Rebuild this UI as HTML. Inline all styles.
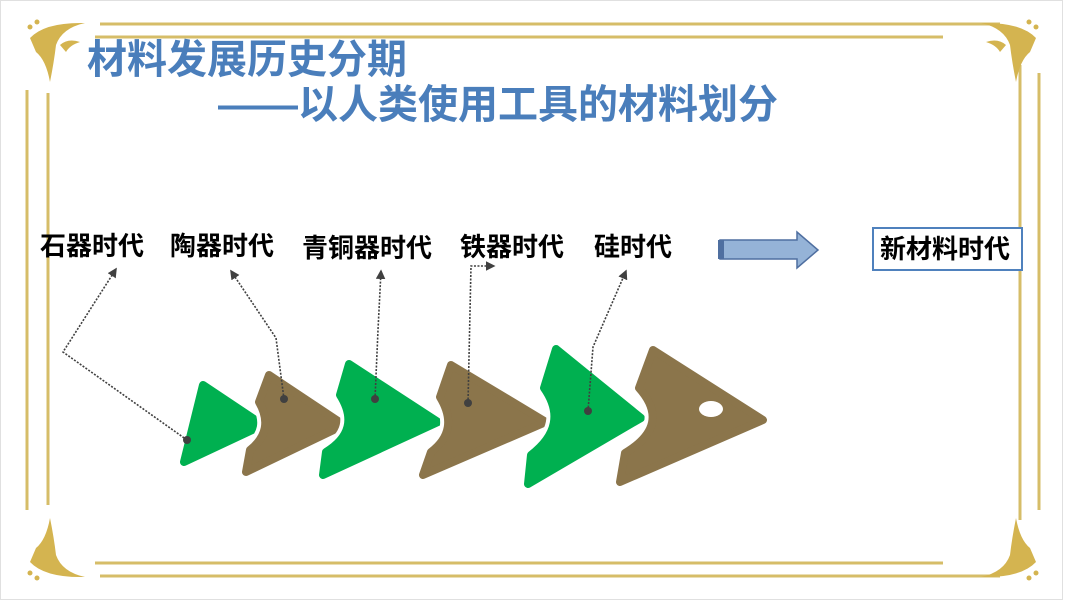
<!DOCTYPE html>
<html><head><meta charset="utf-8"><style>
html,body{margin:0;padding:0;background:#fff;}
body{width:1066px;height:600px;position:relative;overflow:hidden;font-family:"Liberation Sans","Noto Sans CJK SC",sans-serif;}
.t{position:absolute;font-weight:bold;white-space:nowrap;}
.lab{position:absolute;font-weight:bold;font-size:26px;color:#000;white-space:nowrap;line-height:30px;}
</style></head><body>
<svg width="1066" height="600" style="position:absolute;left:0;top:0">
<rect x="0.5" y="0.5" width="1062" height="599" fill="none" stroke="#e0e0e0"/>
<g stroke="#d6bd68" stroke-width="3" fill="none">
<line x1="100" y1="24" x2="1000" y2="24"/>
<line x1="95" y1="37" x2="943" y2="37"/>
<line x1="100" y1="576" x2="1000" y2="576"/>
<line x1="95" y1="563" x2="943" y2="563"/>
<line x1="27" y1="90" x2="27" y2="510"/>
<line x1="48" y1="93" x2="48" y2="505"/>
<line x1="1039" y1="73" x2="1039" y2="510"/>
<line x1="1020" y1="65" x2="1020" y2="520"/>
</g>
<g fill="#d4b450">
<path d="M30,38 Q45,22 85,23 Q62,28 56,45 Q54,62 50,82 Q46,60 36,52 Z"/>
<path d="M60,45 Q68,38 80,42 Q70,45 66,52 Z"/>
<circle cx="30" cy="27" r="2.5"/><circle cx="37" cy="22" r="2.5"/>
<path d="M1036,38 Q1021,22 981,23 Q1004,28 1010,45 Q1012,62 1016,82 Q1020,60 1030,52 Z"/>
<path d="M1006,45 Q998,38 986,42 Q996,45 1000,52 Z"/>
<circle cx="1036" cy="27" r="2.5"/><circle cx="1029" cy="22" r="2.5"/>
<path d="M30,562 Q45,578 85,577 Q62,572 56,555 Q54,538 50,518 Q46,540 36,548 Z"/>
<circle cx="30" cy="573" r="2.5"/><circle cx="37" cy="578" r="2.5"/>
<path d="M1036,562 Q1021,578 981,577 Q1004,572 1010,555 Q1012,538 1016,518 Q1020,540 1030,548 Z"/>
<circle cx="1036" cy="573" r="2.5"/><circle cx="1029" cy="578" r="2.5"/>
</g>
<g stroke-linejoin="round">
<path d="M203,385 L263,425 L184,462 Z" fill="#00b050" stroke="#00b050" stroke-width="8"/>
<path d="M269,375 L344,425 L246,472 L250,450 Q275,430 259,402 Z" fill="#fff" stroke="#fff" stroke-width="16"/>
<path d="M269,375 L344,425 L246,472 L250,450 Q275,430 259,402 Z" fill="#8b754b" stroke="#8b754b" stroke-width="8"/>
<path d="M349,364 L438,422 L323,475 L326,452 Q362,430 340,395 Z" fill="#fff" stroke="#fff" stroke-width="16"/>
<path d="M349,364 L438,422 L323,475 L326,452 Q362,430 340,395 Z" fill="#00b050" stroke="#00b050" stroke-width="8"/>
<path d="M451,365 L546,422 L423,475 L431,452 Q460,430 440,397 Z" fill="#fff" stroke="#fff" stroke-width="16"/>
<path d="M451,365 L546,422 L423,475 L431,452 Q460,430 440,397 Z" fill="#8b754b" stroke="#8b754b" stroke-width="8"/>
<path d="M556,349 L641,418 L528,484 L531,455 Q570,425 544,388 Z" fill="#fff" stroke="#fff" stroke-width="16"/>
<path d="M556,349 L641,418 L528,484 L531,455 Q570,425 544,388 Z" fill="#00b050" stroke="#00b050" stroke-width="8"/>
<path d="M653,350 L763,420 L620,482 L625,453 Q672,425 639,388 Z" fill="#fff" stroke="#fff" stroke-width="16"/>
<path d="M653,350 L763,420 L620,482 L625,453 Q672,425 639,388 Z" fill="#8b754b" stroke="#8b754b" stroke-width="8"/>
</g>
<ellipse cx="711" cy="409" rx="12" ry="8" fill="#fff"/>
<defs><marker id="a" markerWidth="6" markerHeight="6" refX="5" refY="3" orient="auto"><path d="M0,0 L6,3 L0,6 Z" fill="#404040"/></marker></defs>
<g stroke="#404040" stroke-width="1.6" stroke-dasharray="2 1.5" fill="none" marker-end="url(#a)">
<polyline points="187,440 63,352 116,269"/>
<polyline points="284,399 276,338 231,271"/>
<polyline points="375,399 378,330 381,271"/>
<polyline points="468,403 471,266 494,266"/>
<polyline points="588,411 593,347 626,271"/>
</g>
<g fill="#404040">
<circle cx="187" cy="440" r="4"/><circle cx="284" cy="399" r="4"/><circle cx="375" cy="399" r="4"/><circle cx="468" cy="403" r="4"/><circle cx="588" cy="411" r="4"/>
</g>
<path d="M720,240 L797,240 L797,232 L818,250 L797,268 L797,259 L720,259 Z" fill="#95b3d7" stroke="#4f6fa0" stroke-width="1.5"/>
<rect x="718" y="240" width="6" height="19" fill="#4f6fa0"/>
<rect x="873" y="228" width="149" height="42" fill="#fff" stroke="#4f81bd" stroke-width="2"/>
</svg>
<div class="t" style="left:87px;top:38px;font-size:40px;color:#4a7ebb;line-height:44px;">材料发展历史分期</div>
<div class="t" style="left:218px;top:83px;font-size:40px;color:#4a7ebb;line-height:44px;">——以人类使用工具的材料划分</div>
<div class="lab" style="left:40px;top:231px;">石器时代</div>
<div class="lab" style="left:170px;top:231px;">陶器时代</div>
<div class="lab" style="left:302px;top:233px;">青铜器时代</div>
<div class="lab" style="left:460px;top:232px;">铁器时代</div>
<div class="lab" style="left:594px;top:232px;">硅时代</div>
<div class="lab" style="left:880px;top:234px;">新材料时代</div>
</body></html>
